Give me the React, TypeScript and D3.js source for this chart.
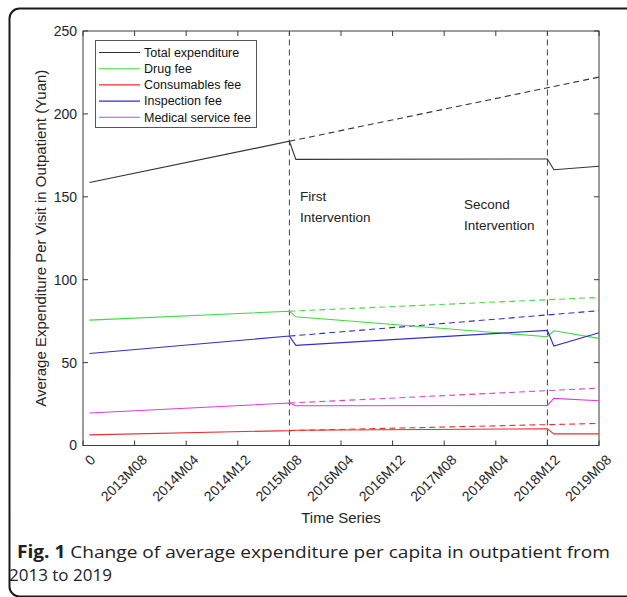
import React from "react";
import * as d3 from "d3";

const monthIdx = [1, 32, 33, 72, 73, 80];
const totalExp = [158.6, 183.5, 172.6, 172.8, 166.3, 168.4];
const drugFee = [75.6, 81.0, 77.6, 65.6, 69.2, 64.6];
const consumablesFee = [6.4, 9.0, 9.2, 10.1, 7.0, 7.0];
const inspectionFee = [55.5, 66.0, 60.4, 69.4, 60.0, 68.0];
const medicalFee = [19.6, 25.6, 24.0, 24.2, 28.4, 27.0];

const cfIdx = [32, 80];
const totalCF = [183.5, 222.2];
const drugCF = [81.0, 89.3];
const consumablesCF = [9.0, 13.3];
const inspectionCF = [66.0, 81.3];
const medicalCF = [25.6, 34.6];

const xTickValues = [0, 8, 16, 24, 32, 40, 48, 56, 64, 72, 80];
const xTickLabels = ["0", "2013M08", "2014M04", "2014M12", "2015M08", "2016M04", "2016M12", "2017M08", "2018M04", "2018M12", "2019M08"];
const yTickValues = [0, 50, 100, 150, 200, 250];
const interventions = [32, 72];

const seriesNames = ["Total expenditure", "Drug fee", "Consumables fee", "Inspection fee", "Medical service fee"];
const seriesColors = ["#333333", "#3ddc3d", "#ec2f2f", "#2f2fd0", "#dc3ddc"];

export default function App() {
  const W = 627, H = 597;
  const x = d3.scaleLinear().domain([0, 80]).range([83, 599]);
  const y = d3.scaleLinear().domain([0, 250]).range([445.5, 31]);
  const line = d3.line<[number, number]>().x((d) => x(d[0])).y((d) => y(d[1]));
  const actual = [totalExp, drugFee, consumablesFee, inspectionFee, medicalFee];
  const cf = [totalCF, drugCF, consumablesCF, inspectionCF, medicalCF];
  const axisColor = "#3a3a3a";
  const font = "'Liberation Sans', Arial, sans-serif";
  const [x0, x1] = x.range();
  const [y0, y1] = y.range();
  const tickLen = 5;

  return (
    <svg width={W} height={H} style={{ position: "absolute", left: 0, top: 0, background: "#fff" }} fontFamily={font}>
      <rect x={9.5} y={8.5} width={700} height={588} rx={10} fill="none" stroke="#1a1a1a" strokeWidth={2} />
      {/* axes box */}
      <rect x={x0} y={y1} width={x1 - x0} height={y0 - y1} fill="#fff" stroke={axisColor} strokeWidth={1} />
      {xTickValues.map((v, i) => (
        <g key={"xt" + i}>
          <line x1={x(v)} x2={x(v)} y1={y0} y2={y0 - tickLen} stroke={axisColor} />
          <line x1={x(v)} x2={x(v)} y1={y1} y2={y1 + tickLen} stroke={axisColor} />
          <text transform={`translate(${x(v) + 6},${y0 + 8}) rotate(-45)`} textAnchor="end" dominantBaseline="hanging" fontSize={14} fill="#262626">
            {xTickLabels[i]}
          </text>
        </g>
      ))}
      {yTickValues.map((v, i) => (
        <g key={"yt" + i}>
          <line x1={x0} x2={x0 + tickLen} y1={y(v)} y2={y(v)} stroke={axisColor} />
          <line x1={x1} x2={x1 - tickLen} y1={y(v)} y2={y(v)} stroke={axisColor} />
          <text x={x0 - 6} y={y(v)} dy="0.35em" textAnchor="end" fontSize={14} fill="#262626">
            {v}
          </text>
        </g>
      ))}
      {interventions.map((v, i) => (
        <line key={"iv" + i} x1={x(v)} x2={x(v)} y1={y0} y2={y1} stroke="#444" strokeDasharray="6,4" />
      ))}
      {cf.map((s, i) => (
        <path key={"cf" + i} d={line(s.map((v, j) => [cfIdx[j], v]) as [number, number][]) || ""} fill="none" stroke={seriesColors[i]} strokeDasharray="6,4" strokeWidth={1.1} />
      ))}
      {actual.map((s, i) => (
        <path key={"ac" + i} d={line(s.map((v, j) => [monthIdx[j], v]) as [number, number][]) || ""} fill="none" stroke={seriesColors[i]} strokeWidth={1.1} />
      ))}
      <text x={300} y={201} fontSize={13.5} fill="#222">First</text>
      <text x={300} y={222} fontSize={13.5} fill="#222">Intervention</text>
      <text x={464} y={209} fontSize={13.5} fill="#222">Second</text>
      <text x={464} y={230} fontSize={13.5} fill="#222">Intervention</text>
      {/* legend */}
      <rect x={95.5} y={40.5} width={161} height={87} fill="#fff" stroke="#555" strokeWidth={1} />
      {seriesNames.map((n, i) => (
        <g key={"lg" + i}>
          <line x1={99} x2={140} y1={52.5 + i * 16.2} y2={52.5 + i * 16.2} stroke={seriesColors[i]} strokeWidth={1.1} />
          <text x={144} y={52.5 + i * 16.2} dy="0.35em" fontSize={12.5} fill="#111">{n}</text>
        </g>
      ))}
      <text x={(x0 + x1) / 2} y={523} textAnchor="middle" fontSize={15} fill="#262626">Time Series</text>
      <text transform={`translate(46,${(y0 + y1) / 2}) rotate(-90)`} textAnchor="middle" fontSize={15} fill="#262626">
        Average Expenditure Per Visit in Outpatient (Yuan)
      </text>
      <text x={17} y={558} fontSize={17} fill="#222" fontFamily="'Open Sans', sans-serif" textLength={593} lengthAdjust="spacingAndGlyphs">
        <tspan fontWeight="bold">Fig. 1</tspan> Change of average expenditure per capita in outpatient from
      </text>
      <text x={9} y={581} fontSize={17} fill="#222" fontFamily="'Open Sans', sans-serif">2013 to 2019</text>
    </svg>
  );
}
